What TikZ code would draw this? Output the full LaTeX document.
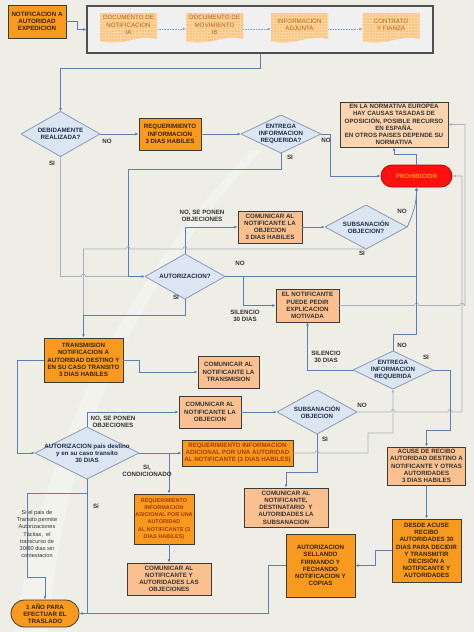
\documentclass[tikz,border=0pt]{standalone}
\usepackage{fontspec}
\setmainfont{Liberation Sans}
\usetikzlibrary{arrows.meta,patterns}
\definecolor{bg}{HTML}{EEEEE6}
\definecolor{dorange}{HTML}{F79A1E}
\definecolor{lorange}{HTML}{FAC090}
\definecolor{notefill}{HTML}{FBD3AE}
\definecolor{docfill}{HTML}{F9C47E}
\definecolor{docgrid}{HTML}{FBD6A2}
\definecolor{doctext}{HTML}{B8640F}
\definecolor{diafill}{HTML}{DCE6F2}
\definecolor{diaborder}{HTML}{8A9AB5}
\definecolor{diatext}{HTML}{1F2D4A}
\definecolor{boxborder}{HTML}{3C3C3C}
\definecolor{lineblue}{HTML}{5B80B8}
\definecolor{linegray}{HTML}{A8B2BE}
\definecolor{dtext}{HTML}{3A2208}
\definecolor{ltext}{HTML}{333333}
\definecolor{reqtext}{HTML}{A63A06}
\definecolor{contfill}{HTML}{F0F0F0}
\definecolor{redfill}{HTML}{FF1010}
\definecolor{redborder}{HTML}{C00000}
\definecolor{prohtext}{HTML}{FFA000}
\newcommand\bfs{\fontsize{6.2pt}{7.2pt}\selectfont\bfseries}
\newcommand\sbfs{\fontsize{5.5pt}{7.2pt}\selectfont\bfseries}
\newcommand\rgs{\fontsize{5.6pt}{7.3pt}\selectfont}
\newcommand\hopr[2]{-- (#1-2.2,#2) .. controls (#1-2.2,#2-3.2) and (#1+2.2,#2-3.2) .. (#1+2.2,#2)}
\newcommand\hopl[2]{-- (#1+2.2,#2) .. controls (#1+2.2,#2-3.2) and (#1-2.2,#2-3.2) .. (#1-2.2,#2)}
\tikzset{
 sz/.style 2 args={minimum width=#1pt, minimum height=#2pt},
 dbox/.style={draw=boxborder, line width=0.8pt, fill=dorange, align=center, inner sep=0pt, font=\bfs, text=dtext},
 lbox/.style={draw=boxborder, line width=0.8pt, fill=lorange, align=center, inner sep=0pt, font=\bfs, text=ltext},
 nbox/.style={lbox, fill=notefill},
 dia/.style={inner sep=0pt, align=center, font=\bfs, text=diatext,
   path picture={
     \fill[diafill] (path picture bounding box.north) -- (path picture bounding box.east) -- (path picture bounding box.south) -- (path picture bounding box.west) -- cycle;
     \draw[diaborder, line width=0.8pt] (path picture bounding box.north) -- (path picture bounding box.east) -- (path picture bounding box.south) -- (path picture bounding box.west) -- cycle;}},
 pill/.style={fill=redfill, draw=redborder, line width=0.8pt, rounded corners=11pt, font=\bfs, text=prohtext, inner sep=0pt},
 dpill/.style={dbox, rounded corners=13.5pt},
 doctxt/.style={inner sep=0pt, align=center, font=\fontsize{6.2pt}{7.2pt}\selectfont, text=doctext},
 lbl/.style={font=\bfs, text=ltext, align=center, inner sep=0pt},
 rg/.style={font=\rgs, text=ltext, align=center, inner sep=0pt},
 conn/.style={draw=lineblue, line width=0.7pt},
 arr/.style={conn, -{Latex[length=3.2pt,width=2.8pt]}},
 gconn/.style={draw=linegray, line width=0.7pt},
 garr/.style={gconn, -{Latex[length=3.2pt,width=2.8pt]}},
 dotarr/.style={draw=lineblue!75, line width=0.6pt, densely dotted, -{Latex[length=3pt,width=2.6pt]}},
}
\begin{document}
\begin{tikzpicture}[x=1pt, y=-1pt]
\useasboundingbox (0,0) rectangle (474,632);
\fill[bg] (0,0) rectangle (474,632);
\fill[white, opacity=0.3] (15,632) .. controls (40,460) and (110,300) .. (250,150) -- (262,150) .. controls (122,300) and (62,460) .. (48,632) -- cycle;

% top
\node[dbox, sz={58}{33}] (n1) at (37,21.5) {NOTIFICACION A\\AUTORIDAD\\EXPEDICION};
\node[draw=boxborder!90, line width=1.2pt, fill=contfill, sz={346}{47}, inner sep=0pt] (cont) at (260,29.5) {};
\foreach \xa/\xb in {100/157, 186/243, 271/328, 362.5/419.5} {
  \path[fill=docfill] (\xa,13) -- (\xb,13) -- (\xb,39) .. controls (\xb-17,33) and (\xa+23,47) .. (\xa,41) -- cycle;
  \path[pattern=grid, pattern color=docgrid] (\xa,13) -- (\xb,13) -- (\xb,39) .. controls (\xb-17,33) and (\xa+23,47) .. (\xa,41) -- cycle;
}
\node[doctxt, sz={57}{29}] (doc1) at (128.5,25) {DOCUMENTO DE\\NOTIFICACION\\IA};
\node[doctxt, sz={57}{29}] (doc2) at (214.5,25) {DOCUMENTO DE\\MOVIMIENTO\\IB};
\node[doctxt, sz={57}{29}] (doc3) at (299.5,25) {INFORMACION\\ADJUNTA};
\node[doctxt, sz={57}{29}] (doc4) at (391,25) {CONTRATO\\Y FIANZA};

% nodes
\node[dia, sz={79}{45}] (debid) at (60.5,134) {DEBIDAMENTE\\REALIZADA?};
\node[dbox, sz={62}{32}] (req1) at (170,134) {REQUERIMIENTO\\INFORMACION\\3 DIAS HABILES};
\node[dia, sz={80}{38}] (ent1) at (281,134) {ENTREGA\\INFORMACION\\REQUERIDA?};
\node[nbox, sz={108}{45}] (note) at (394,124.5) {EN LA NORMATIVA EUROPEA\\HAY CAUSAS TASADAS DE\\OPOSICIÓN, POSIBLE RECURSO\\EN ESPAÑA.\\EN OTROS PAISES DEPENDE SU\\NORMATIVA};
\node[pill, sz={71}{22}] (prohib) at (416.5,176) {PROHIBICION};
\node[dia, sz={80}{45}] (autoriz) at (185,276.5) {AUTORIZACION?};
\node[lbox, sz={64}{32}] (com1) at (270,227) {COMUNICAR AL\\NOTIFICANTE LA\\OBJECION\\3 DIAS HABILES};
\node[dia, sz={82}{44}] (sub1) at (366,227) {SUBSANACIÓN\\OBJECION?};
\node[lbox, sz={63}{33}] (expl) at (307.5,305.5) {EL NOTIFICANTE\\PUEDE PEDIR\\EXPLICACION\\MOTIVADA};
\node[dbox, sz={79}{44}] (trans) at (83.5,360) {TRANSMISION\\NOTIFICACION A\\AUTORIDAD DESTINO Y\\EN SU CASO TRANSITO\\3 DIAS HABILES};
\node[lbox, sz={61}{32}] (comtrans) at (228.5,372) {COMUNICAR AL\\NOTIFICANTE LA\\TRANSMISION};
\node[dia, sz={80}{38}] (ent2) at (393,370) {ENTREGA\\INFORMACION\\REQUERIDA};
\node[lbox, sz={62}{32}] (comobj) at (210,412) {COMUNICAR AL\\NOTIFICANTE LA\\OBJECION};
\node[dia, sz={80}{44}] (sub2) at (317,412) {SUBSANACIÓN\\OBJECION};
\node[dia, sz={104}{52}] (autpais) at (87,453) {AUTORIZACION pais destino\\y en su caso transito\\30 DIAS};
\node[dbox, sz={111}{26}, text=reqtext] (reqw) at (237.5,453) {REQUERIMIENTO INFORMACION\\ADICIONAL POR UNA AUTORIDAD\\AL NOTIFICANTE (3 DIAS HABILES)};
\node[lbox, sz={78}{38}] (acuse) at (426.5,466) {ACUSE DE RECIBO\\AUTORIDAD DESTINO A\\NOTIFICANTE Y OTRAS\\AUTORIDADES\\3 DIAS HABILES};
\node[dbox, sz={60}{50}, text=reqtext, font=\sbfs] (reqlow) at (164,519) {REQUERIMIENTO\\INFORMACION\\ADICIONAL POR UNA\\AUTORIDAD\\AL NOTIFICANTE (3\\DIAS HABILES)};
\node[lbox, sz={84}{39}] (comsub) at (286,507.5) {COMUNICAR AL\\NOTIFICANTE,\\DESTINATARIO\ \ Y\\AUTORIDADES LA\\SUBSANACION};
\node[dbox, sz={69}{63}] (desde) at (426.5,550.5) {DESDE ACUSE\\RECIBO\\AUTORIDADES 30\\DIAS PARA DECIDIR\\Y TRANSMITIR\\DECISIÓN A\\NOTIFICANTE Y\\AUTORIDADES};
\node[dbox, sz={69}{63}] (sell) at (320.5,565.5) {AUTORIZACION\\SELLANDO\\FIRMANDO Y\\FECHANDO\\NOTIFICACION Y\\COPIAS};
\node[lbox, sz={84}{32}] (comobjs) at (169,579) {COMUNICAR AL\\NOTIFICANTE Y\\AUTORIDADES LAS\\OBJECIONES};
\node[dpill, sz={68}{27}] (anio) at (45,613.5) {1 AÑO PARA\\EFECTUAR EL\\TRASLADO};

% connectors (top)
\draw[arr] (n1.east) -- ++(11,0) |- (cont.west);
\draw[dotarr] ([yshift=-4pt]doc1.east) -- ([yshift=-4pt]doc2.west);
\draw[dotarr] ([yshift=-4pt]doc2.east) -- ([yshift=-4pt]doc3.west);
\draw[dotarr] ([yshift=-4pt]doc3.east) -- ([yshift=-4pt]doc4.west);
\draw[arr] (cont.south) -- ++(0,15) -| (debid.north);
\draw[arr] (debid.east) -- (req1.west);
\draw[arr] (req1.east) -- (ent1.west);
\draw[arr] (ent1.east) -- ++(9,0) |- (prohib.west);
\coordinate (j1) at (128,169);
\draw[arr] (ent1.south) |- (j1) -- (j1 |- autoriz.west) -- (autoriz.west);
\draw[arr] (prohib.north) -- ++(0,-10) -| (note.south);
\draw[gconn] (debid.south) -- (debid.south |- autoriz.west) \hopr{83.5}{276.5} -- (j1 |- autoriz.west);
\draw[arr] (autoriz.north) |- (com1.west);
\draw[arr] (com1.east) -- (sub1.west);
\draw[arr] (sub1.east) .. controls (413,214) and (416.5,204) .. (prohib.south);
\draw[gconn] (sub1.south) -- (366,249) \hopl{185}{249} \hopl{128}{249} -- (83.5,249) -- (83.5,315);
\draw[arr] (autoriz.south) -- ++(0,16) -| (trans.north);
\draw[arr] (autoriz.east) -| (prohib.south);
\coordinate (s1) at (243,276.5);
\draw[arr] (s1) |- (expl.west);
\draw[garr] (expl.east) \hopr{416.5}{305.5} \hopr{462}{305.5} -- (465,305.5) |- (note.east);

% connectors (bottom)
\draw[arr] (trans.east) -- ++(16,0) |- (comtrans.west);
\draw[arr] (trans.west) -- ++(-26,0) |- (autpais.west);
\draw[arr] (autpais.north) |- (comobj.west);
\draw[arr] (comobj.east) -- (sub2.west);
\draw[garr] (sub2.east) \hopr{393}{412} \hopr{450}{412} -- (462,412) |- (prohib.east);
\draw[arr] (sub2.south) -- ++(0,38) -| (comsub.north);
\draw[arr] (ent2.north) -- ++(0,-16) -| (prohib.south);
\draw[arr] (ent2.west) -| (expl.south);
\draw[arr] (ent2.east) -- ++(17,0) -- ++(0,60) -| (acuse.north);
\draw[garr] (reqw.east) \hopr{317}{453} -- (368,453) -- (368,433) -| (ent2.south);
\draw[arr] (autpais.east) -- (reqw.west);
\coordinate (j2) at (169,453);
\draw[arr] (j2) -- (j2 |- reqlow.north);
\draw[arr] (reqlow.south -| comobjs.north) -- (comobjs.north);
\draw[arr] (acuse.south) -- (desde.north);
\draw[arr] (desde.west) -- ++(-16,0) |- (sell.east);
\draw[arr] (sell.west) -- ++(-17,0) |- (anio.east);
\draw[conn] (autpais.south) -- (autpais.south |- anio.east);
\coordinate (j3) at (87,493);
\draw[arr] (j3) -- (27,493) -- (27,577) -| (anio.north);

% labels
\node[lbl] at (107,141) {NO};
\node[lbl] at (52,163) {SI};
\node[lbl] at (326,140) {NO};
\node[lbl] at (290,157) {SI};
\node[lbl] at (202,215.5) {NO, SE PONEN\\OBJECIONES};
\node[lbl] at (402,211) {NO};
\node[lbl] at (362,253) {SI};
\node[lbl] at (240,263) {NO};
\node[lbl] at (176,297.5) {SI};
\node[lbl] at (245,316) {SILENCIO\\30 DIAS};
\node[lbl] at (326,357) {SILENCIO\\30 DIAS};
\node[lbl] at (402,345) {NO};
\node[lbl] at (426,357) {SI};
\node[lbl] at (362,405) {NO};
\node[lbl] at (325,439) {SI};
\node[lbl] at (113,422) {NO, SE PONEN\\OBJECIONES};
\node[lbl] at (147,471) {SI,\\CONDICIONADO};
\node[lbl] at (96,506) {Si};
\node[rg] (tac) at (37,534) {Si el pais de\\Transito permite\\Autorizaciones\\Tácitas,\ \ el\\transcurso de\\30/60 dias sin\\contestacion};
\end{tikzpicture}
\end{document}
